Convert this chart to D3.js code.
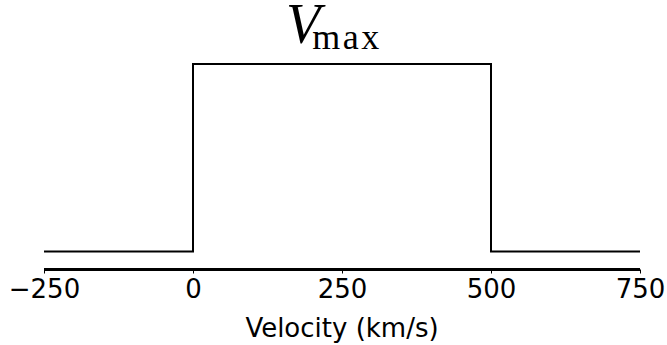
<!DOCTYPE html>
<html>
<head>
<meta charset="utf-8">
<script src="https://cdn.jsdelivr.net/npm/d3@7"></script>
<style>
  html, body { margin: 0; padding: 0; background: #fff; }
  svg { display: block; }
</style>
</head>
<body>
<svg id="chart" width="667" height="345"></svg>
<script>
// Boxcar velocity profile: flat floor, plateau between 0 and 500 km/s
const velocity = [-250, 0, 0, 500, 500, 750];
const profile  = [0, 0, 1, 1, 0, 0];
const tickValues = [-250, 0, 250, 500, 750];
const xLabel = "Velocity (km/s)";

const svg = d3.select("#chart");

const x = d3.scaleLinear().domain([-250, 750]).range([44, 640]);
const y = d3.scaleLinear().domain([0, 1]).range([251.5, 64]);

const pts = velocity.map((v, i) => [v, profile[i]]);

svg.append("path")
  .attr("d", d3.line().x(d => x(d[0])).y(d => y(d[1]))(pts))
  .attr("fill", "none")
  .attr("stroke", "#000")
  .attr("stroke-width", 2)
  .attr("stroke-linejoin", "miter");

// Bottom axis
const axisY = 269.5;
const axis = svg.append("g")
  .attr("transform", `translate(0,${axisY})`)
  .call(d3.axisBottom(x)
    .tickValues(tickValues)
    .tickSize(4)
    .tickSizeOuter(0)
    .tickPadding(6)
    .tickFormat(d => d < 0 ? "\u2212" + Math.abs(d) : String(d)));

axis.select(".domain")
  .attr("stroke", "#000")
  .attr("stroke-width", 3)
  .attr("d", `M${x(-250)},0H${x(750)}`);
axis.selectAll(".tick line").attr("stroke", "#000").attr("stroke-width", 1);
axis.selectAll(".tick text")
  .attr("fill", "#000")
  .attr("font-family", "DejaVu Sans")
  .attr("font-size", 26);

svg.append("text")
  .attr("x", (x(-250) + x(750)) / 2)
  .attr("y", 337)
  .attr("text-anchor", "middle")
  .attr("font-family", "DejaVu Sans")
  .attr("font-size", 26)
  .attr("fill", "#000")
  .text(xLabel);

// Title: V with subscript "max"
const title = svg.append("text")
  .attr("x", 286)
  .attr("y", 43)
  .attr("font-family", "'Liberation Serif', 'DejaVu Serif', serif")
  .attr("fill", "#000");
title.append("tspan")
  .attr("font-style", "italic")
  .attr("font-size", 56)
  .text("V");
title.append("tspan")
  .attr("font-size", 36)
  .attr("dx", -8)
  .attr("dy", 6)
  .attr("textLength", 67)
  .attr("lengthAdjust", "spacing")
  .text("max");
</script>
</body>
</html>
